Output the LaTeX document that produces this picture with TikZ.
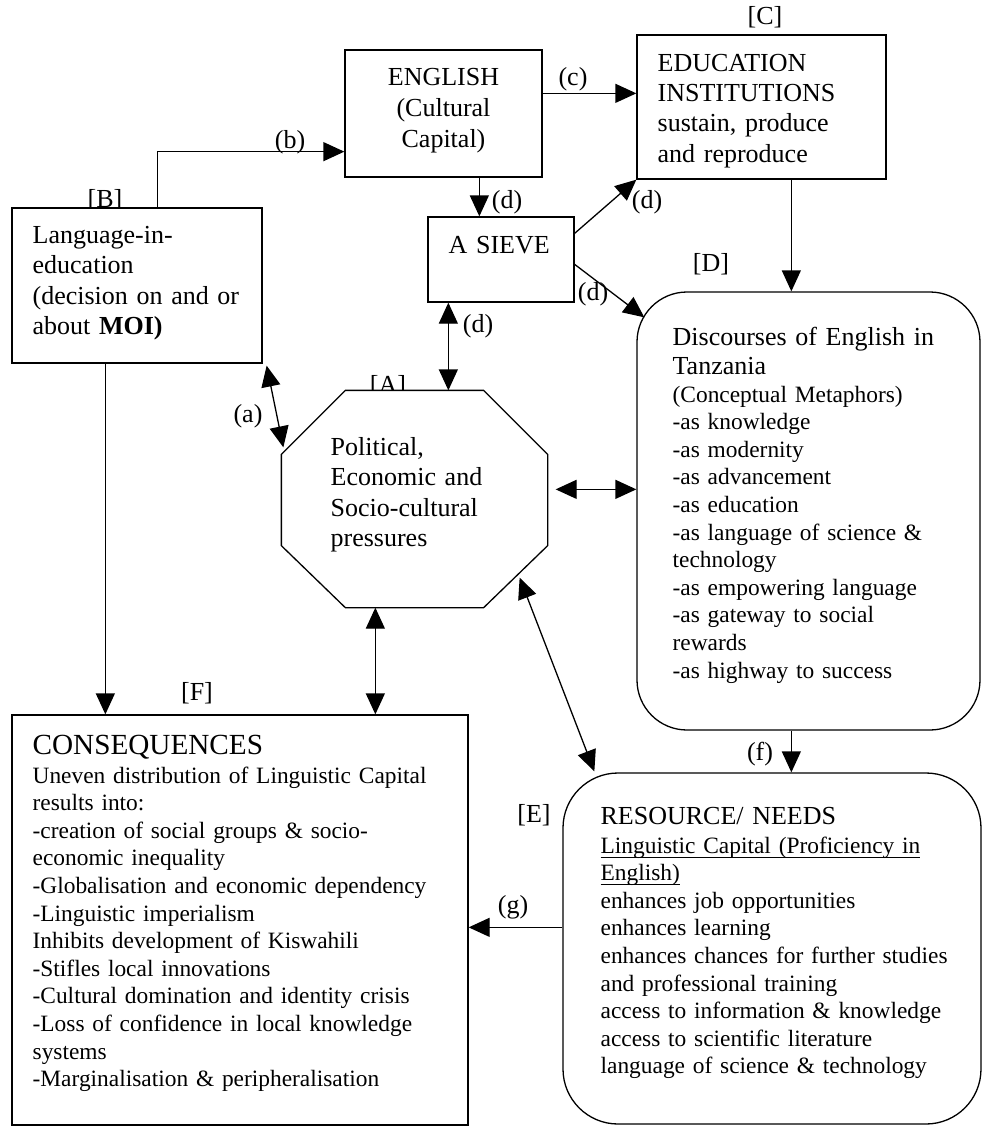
\documentclass[tikz,border=0pt]{standalone}
\usepackage{fontspec}
\setmainfont{Liberation Serif}
\usetikzlibrary{arrows.meta,calc}
\newcommand\myul[1]{\leavevmode\setbox0=\hbox{#1}\rlap{\rule[-2.3pt]{\wd0}{0.55pt}}\box0}
\begin{document}
\begin{tikzpicture}[x=0.5pt,y=-0.5pt,line width=0.65pt,
  box/.style={draw,fill=white,rectangle,inner sep=0pt},
  ghost/.style={rectangle,inner sep=0pt},
  arr/.style={-{Triangle[length=10.5pt,width=9.5pt]}},
  arrtwo/.style={{Triangle[length=10.5pt,width=9.5pt]}-{Triangle[length=10.5pt,width=9.5pt]}},
  lbl/.style={anchor=base,inner sep=0pt,font=\fontsize{13}{15}\selectfont},
  txt/.style={anchor=base west,inner sep=0pt,align=left,text width=#1},
  fbig/.style={font=\fontsize{13}{15.3}\selectfont},
  fsmall/.style={font=\fontsize{11.7}{13.8}\selectfont}
]
\useasboundingbox (0,0) rectangle (983,1126);

% labels partly hidden by boxes
\node[lbl] (labB) at (105,207) {[B]};
\node[lbl] (labA) at (388,393) {[A]};

% boxes
\node[box,minimum width=98.5pt,minimum height=63.5pt] (eng) at (443.5,113.5) {};
\node[box,minimum width=124.5pt,minimum height=72pt] (edu) at (761.5,107) {};
\node[box,minimum width=125pt,minimum height=77.5pt] (lang) at (137,285.5) {};
\node[box,minimum width=73pt,minimum height=42.5pt] (sieve) at (501,259.5) {};
\node[ghost,minimum width=132.5pt,minimum height=108pt] (A) at (414.5,499) {};
\draw[fill=white] ($(A.north west)+(64,0)$) -- ($(A.north east)+(-64,0)$) -- ($(A.north east)+(0,64)$)
  -- ($(A.south east)+(0,-62)$) -- ($(A.south east)+(-64,0)$) -- ($(A.south west)+(64,0)$)
  -- ($(A.south west)+(0,-62)$) -- ($(A.north west)+(0,64)$) -- cycle;
\node[box,rounded corners=25pt,minimum width=171.5pt,minimum height=219pt] (D) at (808.5,511) {};
\node[box,rounded corners=27.5pt,minimum width=209pt,minimum height=175.5pt] (E) at (772,948.5) {};
\node[box,minimum width=228pt,minimum height=205pt] (F) at (240,920) {};

% other labels
\node[lbl] (labC) at (765,24) {[C]};
\node[lbl] (labD) at (711,271) {[D]};
\node[lbl] (labE) at (534,822) {[E]};
\node[lbl] (labF) at (197,700) {[F]};
\node[lbl] (la) at (248,422) {(a)};
\node[lbl] (lb) at (290,148) {(b)};
\node[lbl] (lc) at (573,85) {(c)};
\node[lbl] (ld1) at (507,208) {(d)};
\node[lbl] (ld2) at (647,208) {(d)};
\node[lbl] (ld3) at (593,300) {(d)};
\node[lbl] (ld4) at (478,332) {(d)};
\node[lbl] (lf) at (760,760) {(f)};
\node[lbl] (lg) at (513,913) {(g)};

% texts
\node[anchor=base,inner sep=0pt,align=center,text width=98.5pt,font=\fontsize{13}{15.5}\selectfont] (engt) at (443.5,85)
  {ENGLISH\\(Cultural\\Capital)};
\node[txt=120pt,font=\fontsize{13}{15.2}\selectfont] (edut) at (657,71)
  {EDUCATION\\INSTITUTIONS\\sustain, produce\\and reproduce};
\node[txt=115pt,fbig] (langt) at (32,243)
  {Language-in-\\education\\(decision on and or\\about \textbf{MOI)}};
\node[txt=68pt,fbig] (sievet) at (448,253) {A SIEVE};
\node[txt=105pt,font=\fontsize{13}{15.25}\selectfont] (At) at (330,455)
  {Political,\\Economic and\\Socio-cultural\\pressures};
\node[txt=150pt,font=\fontsize{13}{14.5}\selectfont] (Dh) at (672,345)
  {Discourses of English in\\Tanzania};
\node[txt=150pt,fsmall] (Dt) at (672,402)
  {(Conceptual Metaphors)\\-as knowledge\\-as modernity\\-as advancement\\-as education\\-as language of science \&\\technology\\-as empowering language\\-as gateway to social\\rewards\\-as highway to success};
\node[txt=185pt,font=\fontsize{13}{15}\selectfont] (Eh) at (600,824) {RESOURCE/ NEEDS};
\node[txt=185pt,fsmall] (Et) at (600,853)
  {\myul{Linguistic Capital (Proficiency in}\\\myul{English)}\\enhances job opportunities\\enhances learning\\enhances chances for further studies\\and professional training\\access to information \& knowledge\\access to scientific literature\\language of science \& technology};
\node[txt=215pt,font=\fontsize{14.6}{16}\selectfont] (Fh) at (32,754) {CONSEQUENCES};
\node[txt=210pt,fsmall] (Ft) at (32,783)
  {Uneven distribution of Linguistic Capital\\results into:\\-creation of social groups \& socio-\\economic inequality\\-Globalisation and economic dependency\\-Linguistic imperialism\\Inhibits development of Kiswahili\\-Stifles local innovations\\-Cultural domination and identity crisis\\-Loss of confidence in local knowledge\\systems\\-Marginalisation \& peripheralisation};

% connectors
\draw[arr] ($(lang.north west)+(146,0)$) |- ($(eng.south west)+(0,-26)$);
\draw[arr] ($(eng.north east)+(0,44)$) -- ($(edu.north west)+(0,59)$);
\draw[arr] ($(eng.south west)+(135,0)$) -- ($(sieve.north west)+(52,0)$);
\draw[arr] ($(sieve.north east)+(0,17)$) -- (edu.south west);
\draw[arr] ($(sieve.north east)+(0,48)$) -- ($(D.north west)+(8,26)$);
\draw[arr] ($(edu.south west)+(155,0)$) -- ($(D.north west)+(155,0)$);
\draw[arrtwo] ($(sieve.south west)+(21,0)$) -- ($(A.north west)+(167,0)$);
\draw[arrtwo] ($(lang.south east)+(4,2)$) -- ($(A.north west)+(2,57)$);
\draw[arrtwo] ($(A.north east)+(8,99)$) -- ($(D.north west)+(0,198)$);
\draw[arrtwo] ($(A.south west)+(94,0)$) -- ($(F.north west)+(364,0)$);
\draw[arrtwo] ($(A.south east)+(-28,-30)$) -- ($(E.north west)+(32,-1)$);
\draw[arr] ($(D.south west)+(155,0)$) -- ($(E.north west)+(229,0)$);
\draw[arr] ($(E.north west)+(0,155)$) -- ($(F.north east)+(0,213)$);
\draw[arr] ($(lang.south west)+(94,0)$) -- ($(F.north west)+(94,0)$);
\end{tikzpicture}
\end{document}
